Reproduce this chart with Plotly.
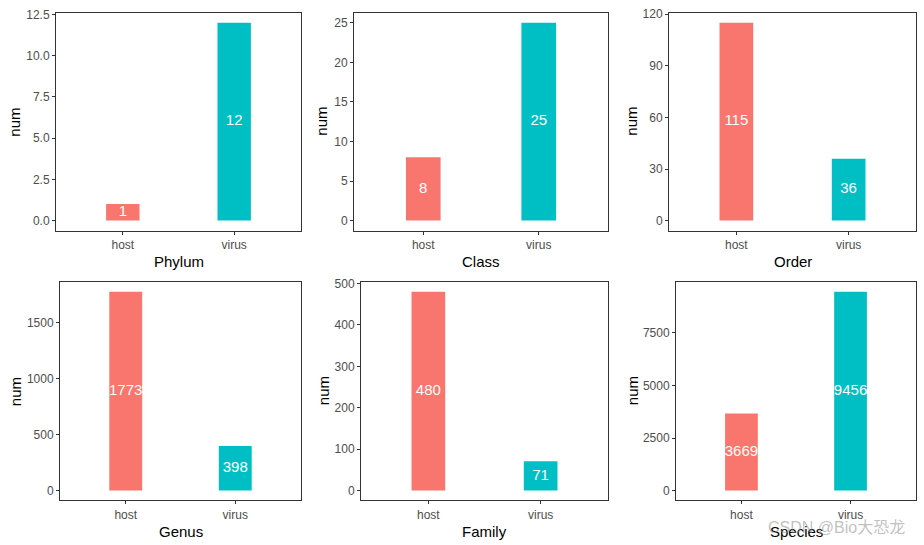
import plotly.graph_objects as go

W, H = 924, 545

groups = ["host", "virus"]
panel_titles = ["Phylum", "Class", "Order", "Genus", "Family", "Species"]
phylum_num = [1, 12]
class_num = [8, 25]
order_num = [115, 36]
genus_num = [1773, 398]
family_num = [480, 71]
species_num = [3669, 9456]
values = [phylum_num, class_num, order_num, genus_num, family_num, species_num]

tick_vals = [
    [0, 2.5, 5, 7.5, 10, 12.5],
    [0, 5, 10, 15, 20, 25],
    [0, 30, 60, 90, 120],
    [0, 500, 1000, 1500],
    [0, 100, 200, 300, 400, 500],
    [0, 2500, 5000, 7500],
]
tick_text = [
    ["0.0", "2.5", "5.0", "7.5", "10.0", "12.5"],
    ["0", "5", "10", "15", "20", "25"],
    ["0", "30", "60", "90", "120"],
    ["0", "500", "1000", "1500"],
    ["0", "100", "200", "300", "400", "500"],
    ["0", "2500", "5000", "7500"],
]

colors = ["#F8766D", "#00BFC4"]

# panel boxes in pixels: (x0, x1, ytop, ybottom)
boxes = [
    (56, 301, 7, 227),
    (354, 608, 7, 227),
    (669, 916, 7, 227),
    (60, 301, 279, 500),
    (361, 608, 279, 500),
    (676, 916, 279, 500),
]
ytitle_x = [15, 322, 632, 15, 323, 632]

FONT = "Liberation Sans, Arial, sans-serif"

fig = go.Figure()
layout = dict(
    width=W, height=H, margin=dict(l=0, r=0, t=0, b=0),
    paper_bgcolor="white", plot_bgcolor="white", showlegend=False,
    font=dict(family=FONT),
)
annotations = []

for i, (vals, title) in enumerate(zip(values, panel_titles)):
    n = i + 1
    xa = "x" if n == 1 else f"x{n}"
    ya = "y" if n == 1 else f"y{n}"
    fig.add_trace(go.Bar(
        x=groups, y=vals, marker=dict(color=colors, line=dict(width=0)),
        width=0.3, xaxis=xa, yaxis=ya, hoverinfo="skip",
    ))
    fig.add_trace(go.Scatter(
        x=groups, y=[v / 2 for v in vals], text=[str(v) for v in vals],
        mode="text", textposition="middle center",
        textfont=dict(color="white", size=15, family=FONT),
        xaxis=xa, yaxis=ya, hoverinfo="skip",
    ))
    x0, x1, yt, yb = boxes[i]
    vmax = max(vals)
    pad = 0.05 * vmax
    axis_common = dict(
        showline=True, linecolor="#333333", linewidth=1, mirror=True,
        ticks="outside", ticklen=3, tickcolor="#333333", tickwidth=1,
        showgrid=False, zeroline=False,
        tickfont=dict(size=12, color="#4D4D4D", family=FONT),
    )
    layout["xaxis" if n == 1 else f"xaxis{n}"] = dict(
        domain=[x0 / W, x1 / W], anchor=ya, range=[-0.6, 1.6],
        **axis_common,
    )
    layout["yaxis" if n == 1 else f"yaxis{n}"] = dict(
        domain=[1 - yb / H, 1 - yt / H], anchor=xa,
        range=[-pad, vmax + pad], tickvals=tick_vals[i], ticktext=tick_text[i],
        **axis_common,
    )
    annotations.append(dict(
        text=title, xref="paper", yref="paper", x=(x0 + x1) / 2 / W,
        y=1 - (yb + 31) / H, showarrow=False, xanchor="center", yanchor="middle",
        font=dict(size=15, color="black", family=FONT),
    ))
    annotations.append(dict(
        text="num", xref="paper", yref="paper", x=ytitle_x[i] / W,
        y=1 - (yt + yb) / 2 / H, showarrow=False, textangle=-90,
        xanchor="center", yanchor="middle",
        font=dict(size=15, color="black", family=FONT),
    ))

annotations.append(dict(
    text="CSDN @Bio大恐龙", xref="paper", yref="paper", x=907 / W, y=1 - 527 / H,
    showarrow=False, xanchor="right", yanchor="middle",
    font=dict(size=16, color="rgba(140,140,140,0.55)", family="Liberation Sans, Noto Sans CJK SC, sans-serif"),
))

layout["annotations"] = annotations
fig.update_layout(**layout)

post = (
    "document.body.style.margin='0';"
    "document.body.style.overflow='hidden';"
    "var d=document.getElementById('{plot_id}');"
    "d.style.position='absolute';d.style.left='0px';d.style.top='0px';"
)
fig.write_html("out.html", post_script=post, config={"displayModeBar": False, "staticPlot": True})
